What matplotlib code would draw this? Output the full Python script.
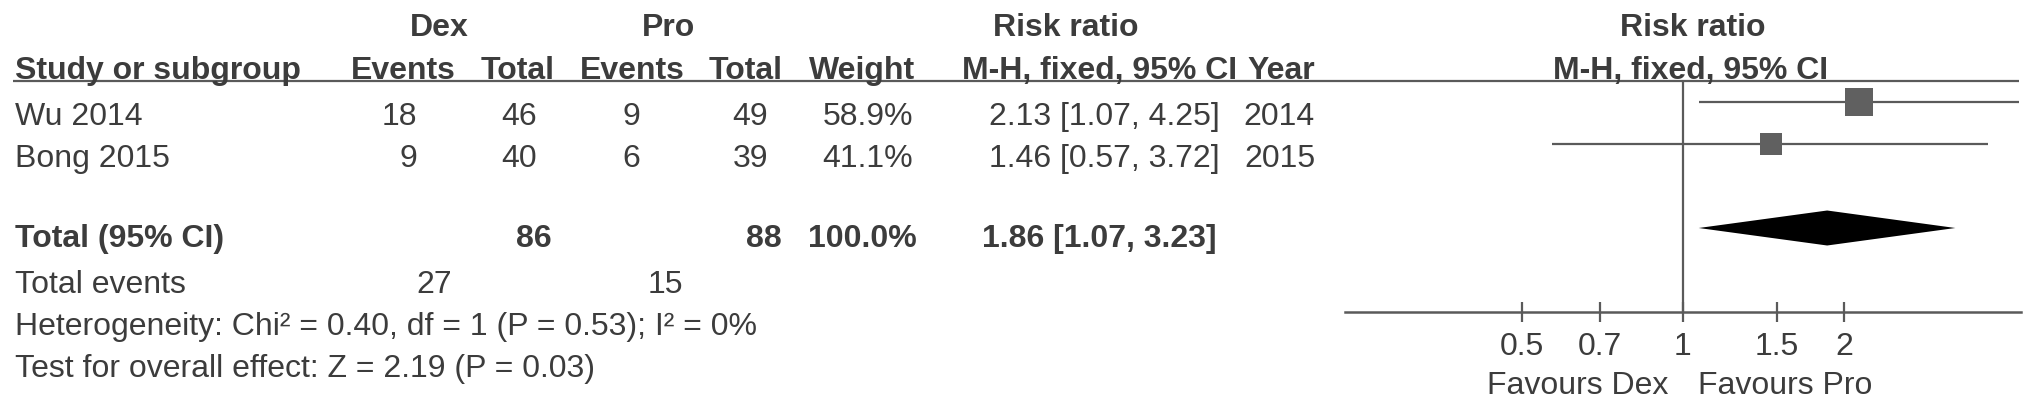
import numpy as np
import matplotlib
matplotlib.use("Agg")
import matplotlib.pyplot as plt

plt.rcParams['font.family'] = ['Liberation Sans', 'DejaVu Sans']

# ─────────────────────────────
# Data
# ─────────────────────────────
studies = ['Wu 2014', 'Bong 2015']
dex_events = [18, 9]
dex_total = [46, 40]
pro_events = [9, 6]
pro_total = [49, 39]
weights = [58.9, 41.1]
rr = [2.13, 1.46]
ci_low = [1.07, 0.57]
ci_high = [4.25, 3.72]
years = [2014, 2015]

total_label = 'Total (95% CI)'
total_dex, total_pro = 86, 88
total_weight = 100.0
total_rr, total_low, total_high = 1.86, 1.07, 3.23
events_dex, events_pro = 27, 15
het_text = 'Heterogeneity: Chi² = 0.40, df = 1 (P = 0.53); I² = 0%'
effect_text = 'Test for overall effect: Z = 2.19 (P = 0.03)'

ticks = [0.5, 0.7, 1, 1.5, 2]
tick_labels = ['0.5', '0.7', '1', '1.5', '2']
favours = ['Favours Dex', 'Favours Pro']

# ─────────────────────────────
# Figure / styles
# ─────────────────────────────
W, H = 2031, 410
fig = plt.figure(figsize=(W / 100, H / 100), dpi=100)
txt = '#3c3c3c'
line_c = '#5a5a5a'
fs = 23

ax = fig.add_axes([0, 0, 1, 1])
ax.set_xlim(0, W)
ax.set_ylim(H, 0)
ax.axis('off')

def t(x, y, s, ha='right', bold=False):
    ax.text(x, y, s, ha=ha, va='baseline', fontsize=fs, color=txt,
            fontweight='bold' if bold else 'normal')

# header rows
t(439, 36, 'Dex', ha='center', bold=True)
t(668, 36, 'Pro', ha='center', bold=True)
t(1066, 36, 'Risk ratio', ha='center', bold=True)
t(1693, 36, 'Risk ratio', ha='center', bold=True)

t(15, 79, 'Study or subgroup', ha='left', bold=True)
t(456, 79, 'Events', bold=True)
t(555, 79, 'Total', bold=True)
t(685, 79, 'Events', bold=True)
t(783, 79, 'Total', bold=True)
t(915, 79, 'Weight', bold=True)
t(1237, 79, 'M-H, fixed, 95% CI', bold=True)
t(1315, 79, 'Year', bold=True)
t(1691, 79, 'M-H, fixed, 95% CI', ha='center', bold=True)

ax.plot([13, 2019], [82, 82], color=line_c, lw=1.6, solid_capstyle='butt')

# study rows
row_base = [125, 167]
for i, name in enumerate(studies):
    y = row_base[i]
    t(15, y, name, ha='left')
    t(417, y, str(dex_events[i]))
    t(537, y, str(dex_total[i]))
    t(640, y, str(pro_events[i]))
    t(768, y, str(pro_total[i]))
    t(913, y, f'{weights[i]:.1f}%')
    t(1220, y, f'{rr[i]:.2f} [{ci_low[i]:.2f}, {ci_high[i]:.2f}]')
    t(1315, y, str(years[i]))

# totals
t(15, 247, total_label, ha='left', bold=True)
t(552, 247, str(total_dex), bold=True)
t(782, 247, str(total_pro), bold=True)
t(917, 247, f'{total_weight:.1f}%', bold=True)
t(1217, 247, f'{total_rr:.2f} [{total_low:.2f}, {total_high:.2f}]', bold=True)

t(15, 293, 'Total events', ha='left')
t(452, 293, str(events_dex))
t(683, 293, str(events_pro))
t(15, 335, het_text, ha='left')
t(15, 377, effect_text, ha='left')

t(1668, 394, favours[0])
t(1698, 394, favours[1], ha='left')

# ─────────────────────────────
# Forest plot axes (log scale)
# ─────────────────────────────
fx0, fx1 = 1345, 2021
fy0, fy1 = 82, 313
axf = fig.add_axes([fx0 / W, (H - fy1) / H, (fx1 - fx0) / W, (fy1 - fy0) / H])
axf.set_xscale('log')
lim = np.exp(1.455)
axf.set_xlim(1 / lim, lim)
axf.set_ylim(5.0, -0.5)
axf.patch.set_alpha(0)
for s in ['top', 'left', 'right']:
    axf.spines[s].set_visible(False)
axf.spines['bottom'].set_color(line_c)
axf.spines['bottom'].set_linewidth(1.8)
axf.set_yticks([])
axf.set_xticks(ticks)
axf.set_xticklabels(tick_labels)
axf.xaxis.set_minor_locator(matplotlib.ticker.NullLocator())
axf.tick_params(axis='x', direction='inout', length=14, width=1.6, color=line_c,
                labelsize=fs, labelcolor=txt, pad=7)

axf.axvline(1, color=line_c, lw=1.6)

for i in range(len(studies)):
    axf.plot([ci_low[i], ci_high[i]], [i, i], color=line_c, lw=1.6,
             solid_capstyle='butt')
    axf.plot(rr[i], i, marker='s', color='#606060', linestyle='none',
             markersize=1.18 * weights[i] ** 0.7, markeredgewidth=0)

h = 17.5 / 42
axf.fill([total_low, total_rr, total_high, total_rr], [3, 3 - h, 3, 3 + h],
         color='black', lw=0)

fig.savefig('out.png', dpi=100)
